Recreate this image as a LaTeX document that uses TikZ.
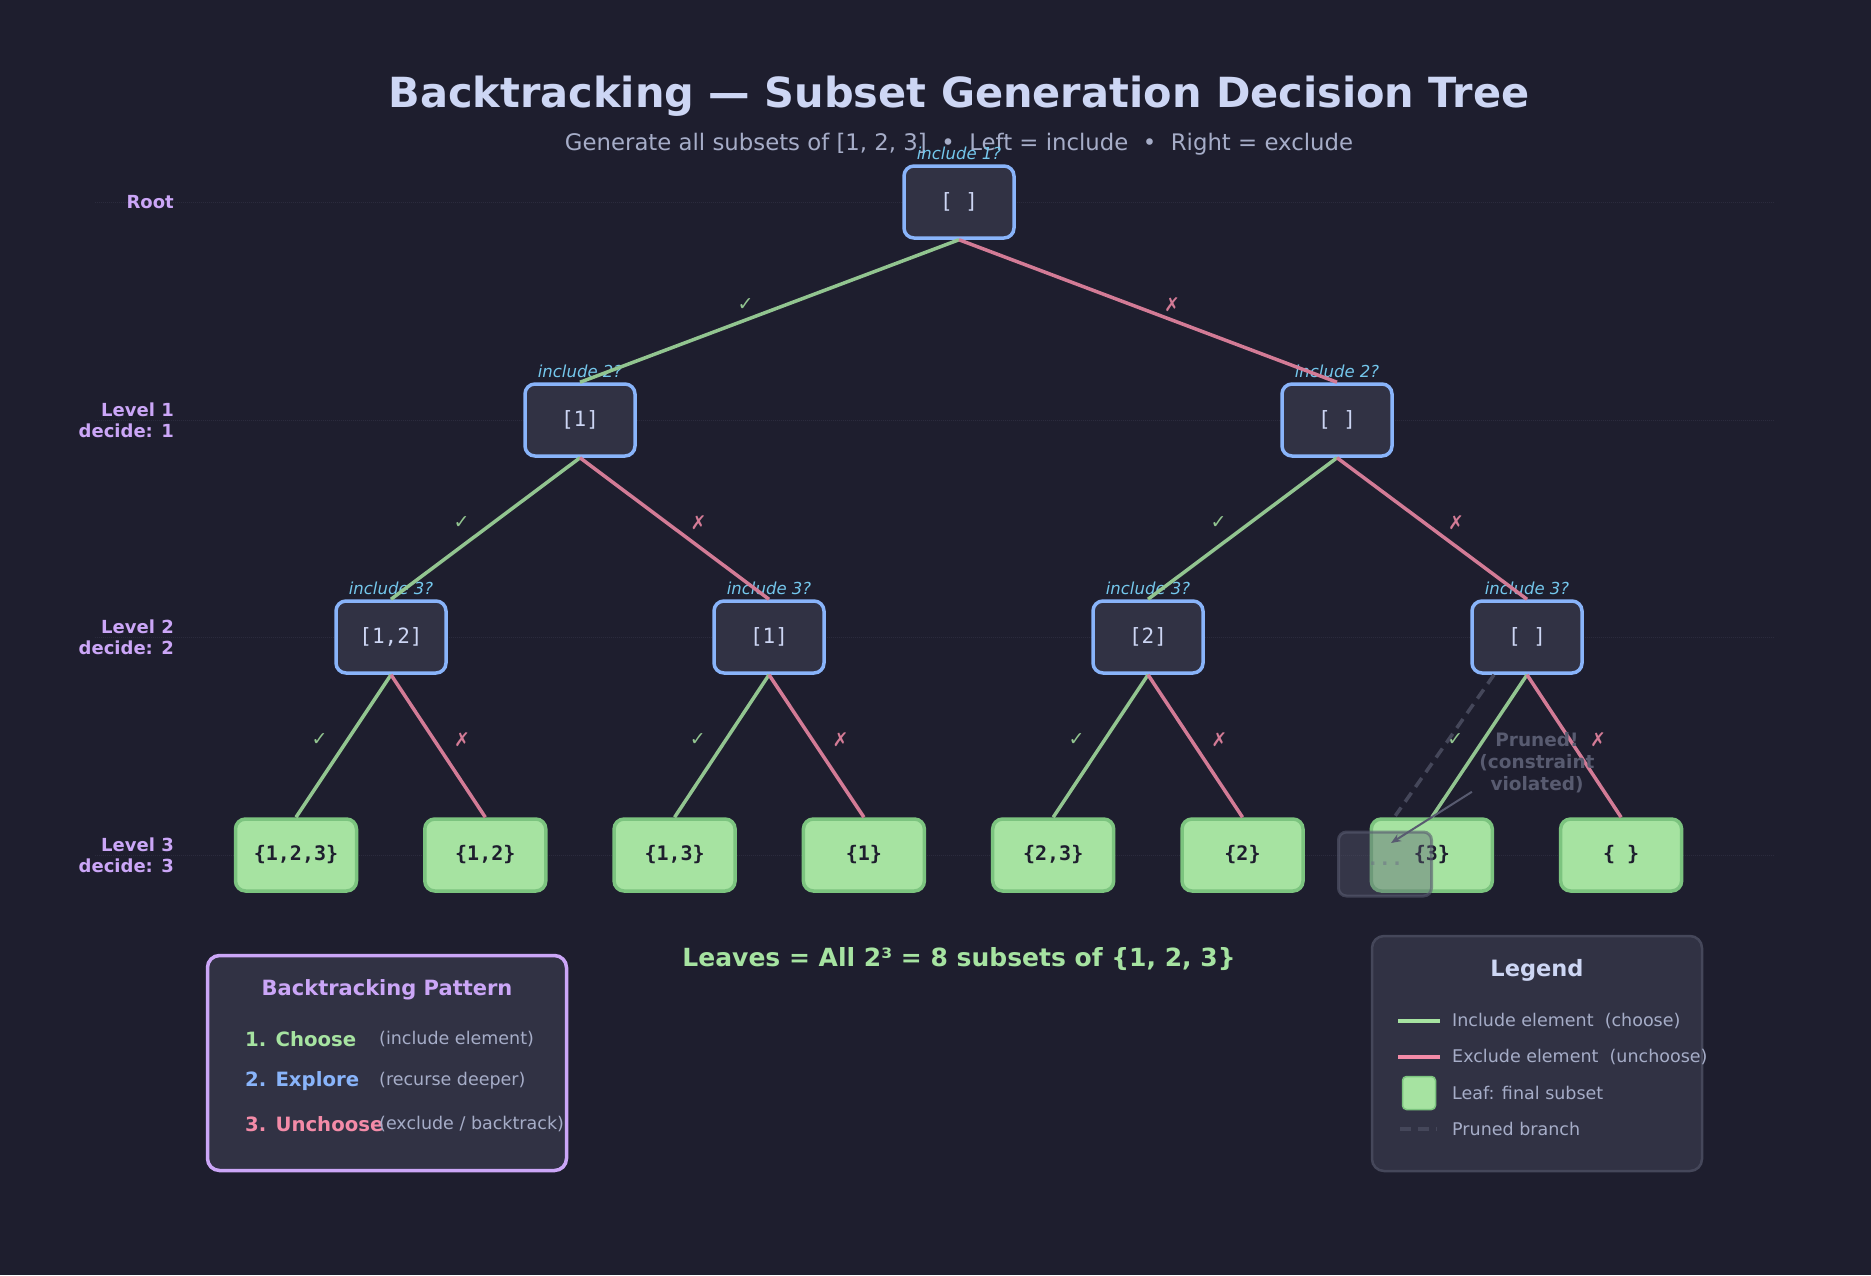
\documentclass[tikz,border=0pt]{standalone}
\usepackage{fontspec}
\setmainfont{DejaVu Sans}
\newfontfamily\monofont{DejaVu Sans Mono}
\usetikzlibrary{arrows.meta}

\definecolor{bgc}{HTML}{1E1E2E}
\definecolor{surf}{HTML}{313244}
\definecolor{surfl}{HTML}{45475A}
\definecolor{ovl}{HTML}{585B70}
\definecolor{ovlz}{HTML}{6C7086}
\definecolor{txt}{HTML}{CDD6F4}
\definecolor{subt}{HTML}{A6ADC8}
\definecolor{blu}{HTML}{89B4FA}
\definecolor{grn}{HTML}{A6E3A1}
\definecolor{pnk}{HTML}{F38BA8}
\definecolor{mauv}{HTML}{CBA6F7}
\definecolor{saph}{HTML}{74C7EC}
\definecolor{leafline}{HTML}{7CC47F}
\definecolor{guidec}{HTML}{2B2B3D}

\newcommand{\pxfont}[2]{\fontsize{#1}{#2}\selectfont}

\tikzset{
  state/.style={draw=blu, line width=3.5pt, fill=surf, rounded corners=10pt,
    minimum width=110pt, minimum height=72pt, text=txt, font=\monofont\pxfont{21}{25}},
  leaf/.style={draw=leafline, line width=3.5pt, fill=grn, rounded corners=10pt,
    minimum width=121pt, minimum height=72pt, text=bgc, font=\monofont\bfseries\pxfont{20}{24}},
  ask/.style={font=\itshape\pxfont{16.5}{19}, text=saph},
  inc/.style={draw=grn!85!bgc, line width=3.5pt},
  exc/.style={draw=pnk!85!bgc, line width=3.5pt},
  chk/.style={midway, xshift=-24pt, yshift=6pt, text=grn!85!bgc, font=\pxfont{19}{22}},
  crs/.style={midway, xshift=24pt, yshift=6pt, text=pnk!85!bgc, font=\pxfont{19}{22}},
  level/.style={anchor=east, align=right, inner sep=0pt, text=mauv, font=\bfseries\pxfont{18}{21}},
  guide/.style={draw=guidec, densely dotted, line width=1pt},
  pruned/.style={draw=surfl, line width=3.5pt, dash pattern=on 11pt off 7pt},
  panel/.style={fill=surf, rounded corners=12pt},
  item/.style={anchor=west, inner sep=0pt, font=\pxfont{17.5}{21}, text=subt},
}

\begin{document}
\begin{tikzpicture}[x=1pt, y=-1pt]
  % Background
  \fill[bgc] (0,0) rectangle (1871,1275);

  % Title
  \node[anchor=base, text=txt, font=\bfseries\pxfont{41.5}{50}] (title) at (959,107)
    {Backtracking — Subset Generation Decision Tree};
  \node[anchor=base, text=subt, font=\pxfont{22.8}{27}] (subtitle) at (959,150)
    {Generate all subsets of [1, 2, 3]\ \ •\ \ Left = include\ \ •\ \ Right = exclude};

  % Level guides
  \foreach \y in {202, 420, 637, 855} \draw[guide] (95,\y) -- (1775,\y);
  \node[level] (lv0) at (174,202) {Root};
  \node[level] (lv1) at (174,420) {Level 1\\decide: 1};
  \node[level] (lv2) at (174,637) {Level 2\\decide: 2};
  \node[level] (lv3) at (174,855) {Level 3\\decide: 3};

  % Decision nodes
  \node[state, label={[ask, label distance=0.5pt]above:include 1?}] (r) at (959,202) {[ ]};
  \node[state, label={[ask, label distance=0.5pt]above:include 2?}] (a) at (580,420) {[1]};
  \node[state, label={[ask, label distance=0.5pt]above:include 2?}] (b) at (1337,420) {[ ]};
  \node[state, label={[ask, label distance=0.5pt]above:include 3?}] (aa) at (391,637) {[1,2]};
  \node[state, label={[ask, label distance=0.5pt]above:include 3?}] (ab) at (769,637) {[1]};
  \node[state, label={[ask, label distance=0.5pt]above:include 3?}] (ba) at (1148,637) {[2]};
  \node[state, label={[ask, label distance=0.5pt]above:include 3?}] (bb) at (1527,637) {[ ]};

  % Leaves
  \foreach \txt [count=\i] in {{\{1,2,3\}}, {\{1,2\}}, {\{1,3\}}, {\{1\}}, {\{2,3\}}, {\{2\}}, {\{3\}}, {\{ \}}}
    \node[leaf] (l\i) at (296+189.3*\i-189.3, 855) {\txt};

  % Include / exclude branches
  \draw[inc] (r.south) -- (a.north) node[chk] {✓};
  \draw[exc] (r.south) -- (b.north) node[crs] {✗};
  \draw[inc] (a.south) -- (aa.north) node[chk] {✓};
  \draw[exc] (a.south) -- (ab.north) node[crs] {✗};
  \draw[inc] (b.south) -- (ba.north) node[chk] {✓};
  \draw[exc] (b.south) -- (bb.north) node[crs] {✗};
  \draw[inc] (aa.south) -- (l1.north) node[chk] {✓};
  \draw[exc] (aa.south) -- (l2.north) node[crs] {✗};
  \draw[inc] (ab.south) -- (l3.north) node[chk] {✓};
  \draw[exc] (ab.south) -- (l4.north) node[crs] {✗};
  \draw[inc] (ba.south) -- (l5.north) node[chk] {✓};
  \draw[exc] (ba.south) -- (l6.north) node[crs] {✗};
  \draw[inc] (bb.south) -- (l7.north);
  \draw[exc] (bb.south) -- (l8.north) node[crs] {✗};

  % Pruned branch
  \node[draw=ovl, draw opacity=0.6, fill=ovl, fill opacity=0.4, text opacity=0.5,
    line width=3pt, rounded corners=8pt, minimum width=93pt, minimum height=64pt,
    text=ovlz, font=\monofont\bfseries\pxfont{20}{24}] (ghost) at (1385,864) {...};
  \draw[pruned] ([xshift=-33pt]bb.south) -- (ghost.north) [shorten >=18pt];
  \path (bb.south) -- (l7.north) node[chk] {✓};
  \node[align=center, text=ovl, font=\bfseries\pxfont{18.5}{22}] (note) at (1537,763)
    {Pruned!\\(constraint\\violated)};
  \draw[ovl, line width=2pt, -{Stealth[length=10pt, width=8pt]}]
    ([xshift=-4pt,yshift=5pt]note.south west) -- ([xshift=6pt,yshift=21pt]ghost.center);

  % Summary
  \node[text=grn, font=\bfseries\pxfont{25}{30}] (summary) at (959,959)
    {Leaves = All 2³ = 8 subsets of \{1, 2, 3\}};

  % Pattern box
  \node[panel, draw=mauv, line width=3.5pt, minimum width=359pt, minimum height=215pt] (pattern) at (387,1063) {};
  \node[text=mauv, font=\bfseries\pxfont{21}{25}] (ptitle) at (387,990) {Backtracking Pattern};
  \node[item, text=grn, font=\bfseries\pxfont{19.7}{23}] (s1) at (245,1039) {1. Choose};
  \node[item] (d1) at (379,1039) {(include element)};
  \node[item, text=blu, font=\bfseries\pxfont{19.7}{23}] (s2) at (245,1081) {2. Explore};
  \node[item] (d2) at (379,1081) {(recurse deeper)};
  \node[item, text=pnk, font=\bfseries\pxfont{19.7}{23}] (s3) at (245,1124) {3. Unchoose};
  \node[item] (d3) at (379,1124) {(exclude / backtrack)};

  % Legend
  \node[panel, draw=surfl, line width=2.5pt, minimum width=330pt, minimum height=235pt] (legend) at (1537,1053.5) {};
  \node[text=txt, font=\bfseries\pxfont{22.5}{27}] (ltitle) at (1537,970) {Legend};
  \coordinate (k1) at (1398,1021);
  \coordinate (k2) at (1398,1057);
  \coordinate (k4) at (1400,1129);
  \draw[grn, line width=4pt] (k1) -- ++(42,0);
  \node[item] (t1) at (1452,1021) {Include element\ \ (choose)};
  \draw[pnk, line width=4pt] (k2) -- ++(42,0);
  \node[item] (t2) at (1452,1057) {Exclude element\ \ (unchoose)};
  \node[draw=leafline, line width=1.5pt, fill=grn, rounded corners=4pt, minimum size=33pt] (k3) at (1419,1093) {};
  \node[item] (t3) at (1452,1093) {Leaf: final subset};
  \draw[pruned, line width=4pt] (k4) -- ++(37,0);
  \node[item] (t4) at (1452,1129) {Pruned branch};
\end{tikzpicture}
\end{document}
